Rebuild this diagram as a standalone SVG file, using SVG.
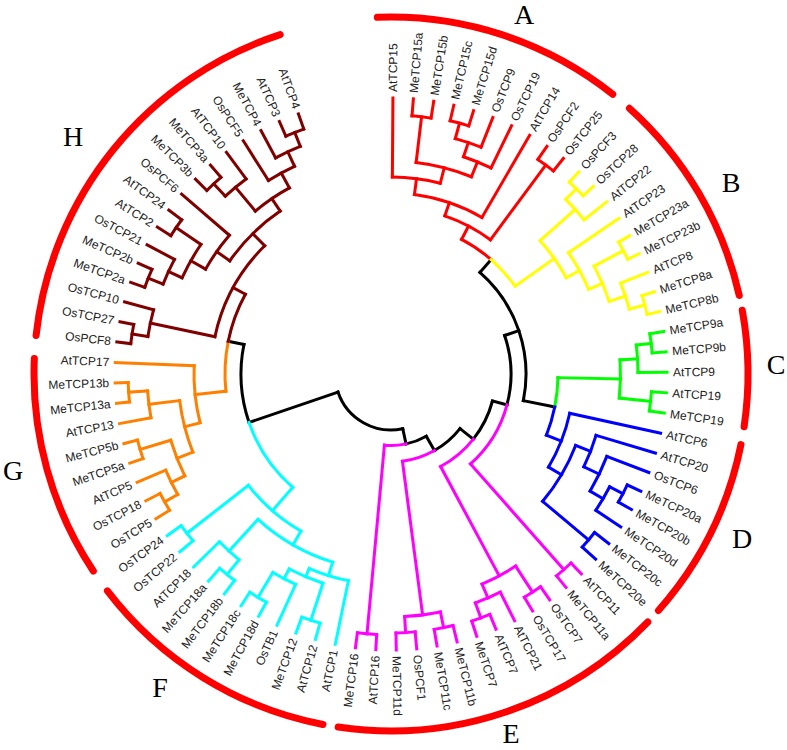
<svg xmlns="http://www.w3.org/2000/svg" width="787" height="750" viewBox="0 0 787 750">
<style>
#connectors line,#connectors circle{fill:none;stroke-width:3;stroke-linecap:square}
.k{stroke:#000}.a{stroke:#f00}.y{stroke:#ff0}.g{stroke:#0f0}.u{stroke:#00f}.m{stroke:#f0f}.c{stroke:#0ff}.o{stroke:#ff8000}.h{stroke:#800000}
#clade-arcs circle{fill:none;stroke:#f00;stroke-width:7;stroke-linecap:round}
.t{font-family:"Liberation Sans",Arial,sans-serif;font-size:12px;fill:#222}
.r{text-anchor:end}
.cl{font-family:"Liberation Serif","Times New Roman",serif;font-size:28px;fill:#000;text-anchor:middle}
</style>
<rect width="787" height="750" fill="#fff"/>
<g id="clade-arcs" transform="translate(391 374)">
<circle r="357" pathLength="360" stroke-dasharray="40.6 360" transform="rotate(-92.2)"/>
<circle r="357" pathLength="360" stroke-dasharray="35.4 360" transform="rotate(-48.1)"/>
<circle r="357" pathLength="360" stroke-dasharray="18.8 360" transform="rotate(-10.3)"/>
<circle r="357" pathLength="360" stroke-dasharray="30.1 360" transform="rotate(11.4)"/>
<circle r="357" pathLength="360" stroke-dasharray="54.5 360" transform="rotate(44)"/>
<circle r="357" pathLength="360" stroke-dasharray="41.6 360" transform="rotate(101)"/>
<circle r="357" pathLength="360" stroke-dasharray="36 360" transform="rotate(146.5)"/>
<circle r="357" pathLength="360" stroke-dasharray="65.7 360" transform="rotate(186.2)"/>
</g>
<g id="clade-letters">
<text class="cl" x="524" y="24">A</text>
<text class="cl" x="731" y="192">B</text>
<text class="cl" x="776" y="374">C</text>
<text class="cl" x="742" y="548">D</text>
<text class="cl" x="511" y="743" font-size="27">E</text>
<text class="cl" x="160" y="697">F</text>
<text class="cl" x="13" y="480">G</text>
<text class="cl" x="73" y="146">H</text>
</g>
<g id="connectors" transform="translate(391 374)">
<g class="k">
<line y1="-135" y2="-152" transform="rotate(41.19)"/>
<line y1="-135" y2="-167" transform="rotate(101.371)"/>
<line y1="-120" y2="-135" transform="rotate(71.28)"/>
<line y1="-105" y2="-120" transform="rotate(104.9025)"/>
<line y1="-88" y2="-105" transform="rotate(128.354)"/>
<line y1="-71.5" y2="-88" transform="rotate(150.4395)"/>
<line y1="-56" y2="-71.5" transform="rotate(167.857)"/>
<line y1="-56" y2="-150" transform="rotate(251.15)"/>
<line y1="-150" y2="-166" transform="rotate(281.365)"/>
<circle r="135" pathLength="360" stroke-dasharray="60.181 360" transform="rotate(-48.81)"/>
<circle r="120" pathLength="360" stroke-dasharray="33.6225 360" transform="rotate(-18.72)"/>
<circle r="105" pathLength="360" stroke-dasharray="23.4515 360" transform="rotate(14.9025)"/>
<circle r="88" pathLength="360" stroke-dasharray="22.086 360" transform="rotate(38.354)"/>
<circle r="71.5" pathLength="360" stroke-dasharray="17.417 360" transform="rotate(60.44)"/>
<circle r="56" pathLength="360" stroke-dasharray="83.293 360" transform="rotate(77.857)"/>
<circle r="150" pathLength="360" stroke-dasharray="30.215 360" transform="rotate(161.15)"/>
</g>
<g class="a">
<line y1="-197" y2="-276" transform="rotate(0.4)"/>
<line y1="-259" y2="-276" transform="rotate(4.65)"/>
<line y1="-259" y2="-276" transform="rotate(8.9)"/>
<line y1="-260" y2="-276" transform="rotate(13.15)"/>
<line y1="-260" y2="-276" transform="rotate(17.4)"/>
<line y1="-244" y2="-276" transform="rotate(21.65)"/>
<line y1="-229" y2="-276" transform="rotate(25.9)"/>
<line y1="-181" y2="-276" transform="rotate(30.15)"/>
<line y1="-260" y2="-276" transform="rotate(34.4)"/>
<line y1="-260" y2="-276" transform="rotate(38.65)"/>
<line y1="-213" y2="-259" transform="rotate(6.775)"/>
<line y1="-244" y2="-260" transform="rotate(15.275)"/>
<line y1="-229" y2="-244" transform="rotate(18.4625)"/>
<line y1="-213" y2="-229" transform="rotate(22.18)"/>
<line y1="-197" y2="-213" transform="rotate(14.4775)"/>
<line y1="-181" y2="-197" transform="rotate(7.439)"/>
<line y1="-167" y2="-181" transform="rotate(18.794)"/>
<line y1="-167" y2="-260" transform="rotate(36.525)"/>
<line y1="-152" y2="-167" transform="rotate(27.66)"/>
<circle r="259" pathLength="360" stroke-dasharray="4.25 360" transform="rotate(-85.35)"/>
<circle r="260" pathLength="360" stroke-dasharray="4.25 360" transform="rotate(-76.85)"/>
<circle r="244" pathLength="360" stroke-dasharray="6.375 360" transform="rotate(-74.725)"/>
<circle r="229" pathLength="360" stroke-dasharray="7.4375 360" transform="rotate(-71.5375)"/>
<circle r="213" pathLength="360" stroke-dasharray="15.4025 360" transform="rotate(-83.225)"/>
<circle r="197" pathLength="360" stroke-dasharray="14.0775 360" transform="rotate(-89.6)"/>
<circle r="181" pathLength="360" stroke-dasharray="22.711 360" transform="rotate(-82.561)"/>
<circle r="260" pathLength="360" stroke-dasharray="4.25 360" transform="rotate(-55.6)"/>
<circle r="167" pathLength="360" stroke-dasharray="17.731 360" transform="rotate(-71.206)"/>
<circle r="152" pathLength="360" stroke-dasharray="13.53 360" transform="rotate(-62.34)"/>
</g>
<g class="y">
<line y1="-262" y2="-276" transform="rotate(42.9)"/>
<line y1="-262" y2="-276" transform="rotate(47.15)"/>
<line y1="-247" y2="-276" transform="rotate(51.4)"/>
<line y1="-215" y2="-276" transform="rotate(55.65)"/>
<line y1="-263" y2="-276" transform="rotate(59.9)"/>
<line y1="-263" y2="-276" transform="rotate(64.15)"/>
<line y1="-247" y2="-276" transform="rotate(68.4)"/>
<line y1="-263" y2="-276" transform="rotate(72.65)"/>
<line y1="-263" y2="-276" transform="rotate(76.9)"/>
<line y1="-247" y2="-262" transform="rotate(45.025)"/>
<line y1="-200" y2="-247" transform="rotate(48.2125)"/>
<line y1="-230" y2="-263" transform="rotate(62.025)"/>
<line y1="-247" y2="-263" transform="rotate(74.775)"/>
<line y1="-230" y2="-247" transform="rotate(71.5875)"/>
<line y1="-215" y2="-230" transform="rotate(66.806)"/>
<line y1="-200" y2="-215" transform="rotate(61.228)"/>
<line y1="-152" y2="-200" transform="rotate(54.72)"/>
<circle r="262" pathLength="360" stroke-dasharray="4.25 360" transform="rotate(-47.1)"/>
<circle r="247" pathLength="360" stroke-dasharray="6.375 360" transform="rotate(-44.975)"/>
<circle r="263" pathLength="360" stroke-dasharray="4.25 360" transform="rotate(-30.1)"/>
<circle r="263" pathLength="360" stroke-dasharray="4.25 360" transform="rotate(-17.35)"/>
<circle r="247" pathLength="360" stroke-dasharray="6.375 360" transform="rotate(-21.6)"/>
<circle r="230" pathLength="360" stroke-dasharray="9.5625 360" transform="rotate(-27.975)"/>
<circle r="215" pathLength="360" stroke-dasharray="11.156 360" transform="rotate(-34.35)"/>
<circle r="200" pathLength="360" stroke-dasharray="13.0155 360" transform="rotate(-41.7875)"/>
<circle r="152" pathLength="360" stroke-dasharray="13.53 360" transform="rotate(-48.81)"/>
</g>
<g class="g">
<line y1="-262" y2="-276" transform="rotate(81.15)"/>
<line y1="-262" y2="-276" transform="rotate(85.4)"/>
<line y1="-247" y2="-276" transform="rotate(89.65)"/>
<line y1="-261" y2="-276" transform="rotate(93.9)"/>
<line y1="-261" y2="-276" transform="rotate(98.15)"/>
<line y1="-247" y2="-262" transform="rotate(83.275)"/>
<line y1="-229.5" y2="-247" transform="rotate(86.4625)"/>
<line y1="-229.5" y2="-261" transform="rotate(96.025)"/>
<line y1="-167" y2="-229.5" transform="rotate(91.244)"/>
<circle r="262" pathLength="360" stroke-dasharray="4.25 360" transform="rotate(-8.85)"/>
<circle r="247" pathLength="360" stroke-dasharray="6.375 360" transform="rotate(-6.725)"/>
<circle r="261" pathLength="360" stroke-dasharray="4.25 360" transform="rotate(3.9)"/>
<circle r="229.5" pathLength="360" stroke-dasharray="9.5625 360" transform="rotate(-3.5375)"/>
<circle r="167" pathLength="360" stroke-dasharray="10.127 360" transform="rotate(1.244)"/>
</g>
<g class="u">
<line y1="-183" y2="-276" transform="rotate(102.4)"/>
<line y1="-214" y2="-276" transform="rotate(106.65)"/>
<line y1="-231" y2="-276" transform="rotate(110.9)"/>
<line y1="-261" y2="-276" transform="rotate(115.15)"/>
<line y1="-261" y2="-276" transform="rotate(119.4)"/>
<line y1="-246" y2="-276" transform="rotate(123.65)"/>
<line y1="-258" y2="-276" transform="rotate(127.9)"/>
<line y1="-258" y2="-276" transform="rotate(132.15)"/>
<line y1="-246" y2="-261" transform="rotate(117.275)"/>
<line y1="-231" y2="-246" transform="rotate(120.4625)"/>
<line y1="-214" y2="-231" transform="rotate(115.681)"/>
<line y1="-198" y2="-214" transform="rotate(111.166)"/>
<line y1="-198" y2="-258" transform="rotate(130.025)"/>
<line y1="-183" y2="-198" transform="rotate(120.5955)"/>
<line y1="-167" y2="-183" transform="rotate(111.498)"/>
<circle r="261" pathLength="360" stroke-dasharray="4.25 360" transform="rotate(25.15)"/>
<circle r="246" pathLength="360" stroke-dasharray="6.375 360" transform="rotate(27.275)"/>
<circle r="231" pathLength="360" stroke-dasharray="9.5625 360" transform="rotate(20.9)"/>
<circle r="214" pathLength="360" stroke-dasharray="9.031 360" transform="rotate(16.65)"/>
<circle r="258" pathLength="360" stroke-dasharray="4.25 360" transform="rotate(37.9)"/>
<circle r="198" pathLength="360" stroke-dasharray="18.859 360" transform="rotate(21.166)"/>
<circle r="183" pathLength="360" stroke-dasharray="18.1955 360" transform="rotate(12.4)"/>
<circle r="167" pathLength="360" stroke-dasharray="10.127 360" transform="rotate(11.371)"/>
</g>
<g class="m">
<line y1="-261" y2="-276" transform="rotate(136.4)"/>
<line y1="-261" y2="-276" transform="rotate(140.65)"/>
<line y1="-260" y2="-276" transform="rotate(144.9)"/>
<line y1="-260" y2="-276" transform="rotate(149.15)"/>
<line y1="-244" y2="-276" transform="rotate(153.4)"/>
<line y1="-260" y2="-276" transform="rotate(157.65)"/>
<line y1="-260" y2="-276" transform="rotate(161.9)"/>
<line y1="-259" y2="-276" transform="rotate(166.15)"/>
<line y1="-259" y2="-276" transform="rotate(170.4)"/>
<line y1="-259" y2="-276" transform="rotate(174.65)"/>
<line y1="-259" y2="-276" transform="rotate(178.9)"/>
<line y1="-261" y2="-276" transform="rotate(183.15)"/>
<line y1="-261" y2="-276" transform="rotate(187.4)"/>
<line y1="-120" y2="-261" transform="rotate(138.525)"/>
<line y1="-229" y2="-260" transform="rotate(147.025)"/>
<line y1="-244" y2="-260" transform="rotate(159.775)"/>
<line y1="-229" y2="-244" transform="rotate(156.5875)"/>
<line y1="-105" y2="-229" transform="rotate(151.806)"/>
<line y1="-243" y2="-259" transform="rotate(168.275)"/>
<line y1="-243" y2="-259" transform="rotate(176.775)"/>
<line y1="-88" y2="-243" transform="rotate(172.525)"/>
<line y1="-71.5" y2="-261" transform="rotate(185.275)"/>
<circle r="261" pathLength="360" stroke-dasharray="4.25 360" transform="rotate(46.4)"/>
<circle r="260" pathLength="360" stroke-dasharray="4.25 360" transform="rotate(54.9)"/>
<circle r="260" pathLength="360" stroke-dasharray="4.25 360" transform="rotate(67.65)"/>
<circle r="244" pathLength="360" stroke-dasharray="6.375 360" transform="rotate(63.4)"/>
<circle r="229" pathLength="360" stroke-dasharray="9.5625 360" transform="rotate(57.025)"/>
<circle r="259" pathLength="360" stroke-dasharray="4.25 360" transform="rotate(76.15)"/>
<circle r="259" pathLength="360" stroke-dasharray="4.25 360" transform="rotate(84.65)"/>
<circle r="243" pathLength="360" stroke-dasharray="8.5 360" transform="rotate(78.275)"/>
<circle r="261" pathLength="360" stroke-dasharray="4.25 360" transform="rotate(93.15)"/>
<circle r="120" pathLength="360" stroke-dasharray="33.6225 360" transform="rotate(14.9025)"/>
<circle r="105" pathLength="360" stroke-dasharray="23.452 360" transform="rotate(38.354)"/>
<circle r="88" pathLength="360" stroke-dasharray="22.0855 360" transform="rotate(60.4395)"/>
<circle r="71.5" pathLength="360" stroke-dasharray="17.418 360" transform="rotate(77.857)"/>
</g>
<g class="c">
<line y1="-211" y2="-276" transform="rotate(191.65)"/>
<line y1="-259" y2="-276" transform="rotate(195.9)"/>
<line y1="-259" y2="-276" transform="rotate(200.15)"/>
<line y1="-231" y2="-276" transform="rotate(204.4)"/>
<line y1="-260" y2="-276" transform="rotate(208.65)"/>
<line y1="-260" y2="-276" transform="rotate(212.9)"/>
<line y1="-259" y2="-276" transform="rotate(217.15)"/>
<line y1="-259" y2="-276" transform="rotate(221.4)"/>
<line y1="-240" y2="-276" transform="rotate(225.65)"/>
<line y1="-259" y2="-276" transform="rotate(229.9)"/>
<line y1="-259" y2="-276" transform="rotate(234.15)"/>
<line y1="-220" y2="-259" transform="rotate(198.025)"/>
<line y1="-231" y2="-260" transform="rotate(210.775)"/>
<line y1="-220" y2="-231" transform="rotate(207.5875)"/>
<line y1="-211" y2="-220" transform="rotate(202.806)"/>
<line y1="-197" y2="-211" transform="rotate(197.228)"/>
<line y1="-240" y2="-259" transform="rotate(219.275)"/>
<line y1="-197" y2="-240" transform="rotate(222.4625)"/>
<line y1="-181" y2="-197" transform="rotate(209.845)"/>
<line y1="-181" y2="-259" transform="rotate(232.025)"/>
<line y1="-150" y2="-181" transform="rotate(220.935)"/>
<circle r="259" pathLength="360" stroke-dasharray="4.25 360" transform="rotate(105.9)"/>
<circle r="260" pathLength="360" stroke-dasharray="4.25 360" transform="rotate(118.65)"/>
<circle r="231" pathLength="360" stroke-dasharray="6.375 360" transform="rotate(114.4)"/>
<circle r="220" pathLength="360" stroke-dasharray="9.5625 360" transform="rotate(108.025)"/>
<circle r="211" pathLength="360" stroke-dasharray="11.156 360" transform="rotate(101.65)"/>
<circle r="259" pathLength="360" stroke-dasharray="4.25 360" transform="rotate(127.15)"/>
<circle r="240" pathLength="360" stroke-dasharray="6.375 360" transform="rotate(129.275)"/>
<circle r="197" pathLength="360" stroke-dasharray="25.2345 360" transform="rotate(107.228)"/>
<circle r="259" pathLength="360" stroke-dasharray="4.25 360" transform="rotate(139.9)"/>
<circle r="181" pathLength="360" stroke-dasharray="22.18 360" transform="rotate(119.845)"/>
<circle r="150" pathLength="360" stroke-dasharray="30.215 360" transform="rotate(130.935)"/>
</g>
<g class="o">
<line y1="-260" y2="-276" transform="rotate(238.4)"/>
<line y1="-260" y2="-276" transform="rotate(242.65)"/>
<line y1="-245" y2="-276" transform="rotate(246.9)"/>
<line y1="-262" y2="-276" transform="rotate(251.15)"/>
<line y1="-262" y2="-276" transform="rotate(255.4)"/>
<line y1="-244" y2="-276" transform="rotate(259.65)"/>
<line y1="-263" y2="-276" transform="rotate(263.9)"/>
<line y1="-263" y2="-276" transform="rotate(268.15)"/>
<line y1="-197" y2="-276" transform="rotate(272.4)"/>
<line y1="-245" y2="-260" transform="rotate(240.525)"/>
<line y1="-230" y2="-245" transform="rotate(243.7125)"/>
<line y1="-230" y2="-262" transform="rotate(253.275)"/>
<line y1="-213" y2="-230" transform="rotate(248.494)"/>
<line y1="-244" y2="-263" transform="rotate(266.025)"/>
<line y1="-213" y2="-244" transform="rotate(262.8375)"/>
<line y1="-197" y2="-213" transform="rotate(255.666)"/>
<line y1="-166" y2="-197" transform="rotate(264.033)"/>
<circle r="260" pathLength="360" stroke-dasharray="4.25 360" transform="rotate(148.4)"/>
<circle r="245" pathLength="360" stroke-dasharray="6.375 360" transform="rotate(150.525)"/>
<circle r="262" pathLength="360" stroke-dasharray="4.25 360" transform="rotate(161.15)"/>
<circle r="230" pathLength="360" stroke-dasharray="9.5625 360" transform="rotate(153.7125)"/>
<circle r="263" pathLength="360" stroke-dasharray="4.25 360" transform="rotate(173.9)"/>
<circle r="244" pathLength="360" stroke-dasharray="6.375 360" transform="rotate(169.65)"/>
<circle r="213" pathLength="360" stroke-dasharray="14.3435 360" transform="rotate(158.494)"/>
<circle r="197" pathLength="360" stroke-dasharray="16.734 360" transform="rotate(165.666)"/>
<circle r="166" pathLength="360" stroke-dasharray="17.332 360" transform="rotate(174.033)"/>
</g>
<g class="h">
<line y1="-262" y2="-276" transform="rotate(276.65)"/>
<line y1="-262" y2="-276" transform="rotate(280.9)"/>
<line y1="-246" y2="-276" transform="rotate(285.15)"/>
<line y1="-261" y2="-276" transform="rotate(289.4)"/>
<line y1="-261" y2="-276" transform="rotate(293.65)"/>
<line y1="-245" y2="-276" transform="rotate(297.9)"/>
<line y1="-260" y2="-276" transform="rotate(302.15)"/>
<line y1="-260" y2="-276" transform="rotate(306.4)"/>
<line y1="-213" y2="-276" transform="rotate(310.65)"/>
<line y1="-260" y2="-276" transform="rotate(314.9)"/>
<line y1="-260" y2="-276" transform="rotate(319.15)"/>
<line y1="-243" y2="-276" transform="rotate(323.4)"/>
<line y1="-229" y2="-276" transform="rotate(327.65)"/>
<line y1="-245" y2="-276" transform="rotate(331.9)"/>
<line y1="-260" y2="-276" transform="rotate(336.15)"/>
<line y1="-260" y2="-276" transform="rotate(340.4)"/>
<line y1="-246" y2="-262" transform="rotate(278.775)"/>
<line y1="-180" y2="-246" transform="rotate(281.9625)"/>
<line y1="-245" y2="-261" transform="rotate(291.525)"/>
<line y1="-230" y2="-245" transform="rotate(294.7125)"/>
<line y1="-230" y2="-260" transform="rotate(304.275)"/>
<line y1="-213" y2="-230" transform="rotate(299.494)"/>
<line y1="-197" y2="-213" transform="rotate(305.072)"/>
<line y1="-243" y2="-260" transform="rotate(317.025)"/>
<line y1="-212" y2="-243" transform="rotate(320.2125)"/>
<line y1="-245" y2="-260" transform="rotate(338.275)"/>
<line y1="-229" y2="-245" transform="rotate(335.0875)"/>
<line y1="-212" y2="-229" transform="rotate(331.369)"/>
<line y1="-197" y2="-212" transform="rotate(325.79)"/>
<line y1="-180" y2="-197" transform="rotate(315.431)"/>
<line y1="-166" y2="-180" transform="rotate(298.697)"/>
<circle r="262" pathLength="360" stroke-dasharray="4.25 360" transform="rotate(186.65)"/>
<circle r="246" pathLength="360" stroke-dasharray="6.375 360" transform="rotate(188.775)"/>
<circle r="261" pathLength="360" stroke-dasharray="4.25 360" transform="rotate(199.4)"/>
<circle r="245" pathLength="360" stroke-dasharray="6.375 360" transform="rotate(201.525)"/>
<circle r="260" pathLength="360" stroke-dasharray="4.25 360" transform="rotate(212.15)"/>
<circle r="230" pathLength="360" stroke-dasharray="9.5625 360" transform="rotate(204.7125)"/>
<circle r="213" pathLength="360" stroke-dasharray="11.156 360" transform="rotate(209.494)"/>
<circle r="260" pathLength="360" stroke-dasharray="4.25 360" transform="rotate(224.9)"/>
<circle r="243" pathLength="360" stroke-dasharray="6.375 360" transform="rotate(227.025)"/>
<circle r="260" pathLength="360" stroke-dasharray="4.25 360" transform="rotate(246.15)"/>
<circle r="245" pathLength="360" stroke-dasharray="6.375 360" transform="rotate(241.9)"/>
<circle r="229" pathLength="360" stroke-dasharray="7.4375 360" transform="rotate(237.65)"/>
<circle r="212" pathLength="360" stroke-dasharray="11.1565 360" transform="rotate(230.2125)"/>
<circle r="197" pathLength="360" stroke-dasharray="20.718 360" transform="rotate(215.072)"/>
<circle r="180" pathLength="360" stroke-dasharray="33.4685 360" transform="rotate(191.9625)"/>
<circle r="166" pathLength="360" stroke-dasharray="17.332 360" transform="rotate(191.365)"/>
</g>
</g>
<g id="labels" class="t" transform="translate(391 374)">
<g id="AtTCP15" transform="rotate(-89.6)"><text x="282" dy="4">AtTCP15</text></g>
<g id="MeTCP15a" transform="rotate(-85.35)"><text x="282" dy="4">MeTCP15a</text></g>
<g id="MeTCP15b" transform="rotate(-81.1)"><text x="282" dy="4">MeTCP15b</text></g>
<g id="MeTCP15c" transform="rotate(-76.85)"><text x="282" dy="4">MeTCP15c</text></g>
<g id="MeTCP15d" transform="rotate(-72.6)"><text x="282" dy="4">MeTCP15d</text></g>
<g id="OsTCP9" transform="rotate(-68.35)"><text x="282" dy="4">OsTCP9</text></g>
<g id="OsTCP19" transform="rotate(-64.1)"><text x="282" dy="4">OsTCP19</text></g>
<g id="AtTCP14" transform="rotate(-59.85)"><text x="282" dy="4">AtTCP14</text></g>
<g id="OsPCF2" transform="rotate(-55.6)"><text x="282" dy="4">OsPCF2</text></g>
<g id="OsTCP25" transform="rotate(-51.35)"><text x="282" dy="4">OsTCP25</text></g>
<g id="OsPCF3" transform="rotate(-47.1)"><text x="282" dy="4">OsPCF3</text></g>
<g id="OsTCP28" transform="rotate(-42.85)"><text x="282" dy="4">OsTCP28</text></g>
<g id="AtTCP22" transform="rotate(-38.6)"><text x="282" dy="4">AtTCP22</text></g>
<g id="AtTCP23" transform="rotate(-34.35)"><text x="282" dy="4">AtTCP23</text></g>
<g id="MeTCP23a" transform="rotate(-30.1)"><text x="282" dy="4">MeTCP23a</text></g>
<g id="MeTCP23b" transform="rotate(-25.85)"><text x="282" dy="4">MeTCP23b</text></g>
<g id="AtTCP8" transform="rotate(-21.6)"><text x="282" dy="4">AtTCP8</text></g>
<g id="MeTCP8a" transform="rotate(-17.35)"><text x="282" dy="4">MeTCP8a</text></g>
<g id="MeTCP8b" transform="rotate(-13.1)"><text x="282" dy="4">MeTCP8b</text></g>
<g id="MeTCP9a" transform="rotate(-8.85)"><text x="282" dy="4">MeTCP9a</text></g>
<g id="MeTCP9b" transform="rotate(-4.6)"><text x="282" dy="4">MeTCP9b</text></g>
<g id="AtTCP9" transform="rotate(-0.35)"><text x="282" dy="4">AtTCP9</text></g>
<g id="AtTCP19" transform="rotate(3.9)"><text x="282" dy="4">AtTCP19</text></g>
<g id="MeTCP19" transform="rotate(8.15)"><text x="282" dy="4">MeTCP19</text></g>
<g id="AtTCP6" transform="rotate(12.4)"><text x="282" dy="4">AtTCP6</text></g>
<g id="AtTCP20" transform="rotate(16.65)"><text x="282" dy="4">AtTCP20</text></g>
<g id="OsTCP6" transform="rotate(20.9)"><text x="282" dy="4">OsTCP6</text></g>
<g id="MeTCP20a" transform="rotate(25.15)"><text x="282" dy="4">MeTCP20a</text></g>
<g id="MeTCP20b" transform="rotate(29.4)"><text x="282" dy="4">MeTCP20b</text></g>
<g id="MeTCP20d" transform="rotate(33.65)"><text x="282" dy="4">MeTCP20d</text></g>
<g id="MeTCP20c" transform="rotate(37.9)"><text x="282" dy="4">MeTCP20c</text></g>
<g id="MeTCP20e" transform="rotate(42.15)"><text x="282" dy="4">MeTCP20e</text></g>
<g id="AtTCP11" transform="rotate(46.4)"><text x="282" dy="4">AtTCP11</text></g>
<g id="MeTCP11a" transform="rotate(50.65)"><text x="282" dy="4">MeTCP11a</text></g>
<g id="OsTCP7" transform="rotate(54.9)"><text x="282" dy="4">OsTCP7</text></g>
<g id="OsTCP17" transform="rotate(59.15)"><text x="282" dy="4">OsTCP17</text></g>
<g id="AtTCP21" transform="rotate(63.4)"><text x="282" dy="4">AtTCP21</text></g>
<g id="AtTCP7" transform="rotate(67.65)"><text x="282" dy="4">AtTCP7</text></g>
<g id="MeTCP7" transform="rotate(71.9)"><text x="282" dy="4">MeTCP7</text></g>
<g id="MeTCP11b" transform="rotate(76.15)"><text x="282" dy="4">MeTCP11b</text></g>
<g id="MeTCP11c" transform="rotate(80.4)"><text x="282" dy="4">MeTCP11c</text></g>
<g id="OsPCF1" transform="rotate(84.65)"><text x="282" dy="4">OsPCF1</text></g>
<g id="MeTCP11d" transform="rotate(88.9)"><text x="282" dy="4">MeTCP11d</text></g>
<g id="AtTCP16" transform="rotate(-86.85)"><text class="r" x="-282" dy="4">AtTCP16</text></g>
<g id="MeTCP16" transform="rotate(-82.6)"><text class="r" x="-282" dy="4">MeTCP16</text></g>
<g id="AtTCP1" transform="rotate(-78.35)"><text class="r" x="-282" dy="4">AtTCP1</text></g>
<g id="AtTCP12" transform="rotate(-74.1)"><text class="r" x="-282" dy="4">AtTCP12</text></g>
<g id="MeTCP12" transform="rotate(-69.85)"><text class="r" x="-282" dy="4">MeTCP12</text></g>
<g id="OsTB1" transform="rotate(-65.6)"><text class="r" x="-282" dy="4">OsTB1</text></g>
<g id="MeTCP18d" transform="rotate(-61.35)"><text class="r" x="-282" dy="4">MeTCP18d</text></g>
<g id="MeTCP18c" transform="rotate(-57.1)"><text class="r" x="-282" dy="4">MeTCP18c</text></g>
<g id="MeTCP18b" transform="rotate(-52.85)"><text class="r" x="-282" dy="4">MeTCP18b</text></g>
<g id="MeTCP18a" transform="rotate(-48.6)"><text class="r" x="-282" dy="4">MeTCP18a</text></g>
<g id="AtTCP18" transform="rotate(-44.35)"><text class="r" x="-282" dy="4">AtTCP18</text></g>
<g id="OsTCP22" transform="rotate(-40.1)"><text class="r" x="-282" dy="4">OsTCP22</text></g>
<g id="OsTCP24" transform="rotate(-35.85)"><text class="r" x="-282" dy="4">OsTCP24</text></g>
<g id="OsTCP5" transform="rotate(-31.6)"><text class="r" x="-282" dy="4">OsTCP5</text></g>
<g id="OsTCP18" transform="rotate(-27.35)"><text class="r" x="-282" dy="4">OsTCP18</text></g>
<g id="AtTCP5" transform="rotate(-23.1)"><text class="r" x="-282" dy="4">AtTCP5</text></g>
<g id="MeTCP5a" transform="rotate(-18.85)"><text class="r" x="-282" dy="4">MeTCP5a</text></g>
<g id="MeTCP5b" transform="rotate(-14.6)"><text class="r" x="-282" dy="4">MeTCP5b</text></g>
<g id="AtTCP13" transform="rotate(-10.35)"><text class="r" x="-282" dy="4">AtTCP13</text></g>
<g id="MeTCP13a" transform="rotate(-6.1)"><text class="r" x="-282" dy="4">MeTCP13a</text></g>
<g id="MeTCP13b" transform="rotate(-1.85)"><text class="r" x="-282" dy="4">MeTCP13b</text></g>
<g id="AtTCP17" transform="rotate(2.4)"><text class="r" x="-282" dy="4">AtTCP17</text></g>
<g id="OsPCF8" transform="rotate(6.65)"><text class="r" x="-282" dy="4">OsPCF8</text></g>
<g id="OsTCP27" transform="rotate(10.9)"><text class="r" x="-282" dy="4">OsTCP27</text></g>
<g id="OsTCP10" transform="rotate(15.15)"><text class="r" x="-282" dy="4">OsTCP10</text></g>
<g id="MeTCP2a" transform="rotate(19.4)"><text class="r" x="-282" dy="4">MeTCP2a</text></g>
<g id="MeTCP2b" transform="rotate(23.65)"><text class="r" x="-282" dy="4">MeTCP2b</text></g>
<g id="OsTCP21" transform="rotate(27.9)"><text class="r" x="-282" dy="4">OsTCP21</text></g>
<g id="AtTCP2" transform="rotate(32.15)"><text class="r" x="-282" dy="4">AtTCP2</text></g>
<g id="AtTCP24" transform="rotate(36.4)"><text class="r" x="-282" dy="4">AtTCP24</text></g>
<g id="OsPCF6" transform="rotate(40.65)"><text class="r" x="-282" dy="4">OsPCF6</text></g>
<g id="MeTCP3b" transform="rotate(44.9)"><text class="r" x="-282" dy="4">MeTCP3b</text></g>
<g id="MeTCP3a" transform="rotate(49.15)"><text class="r" x="-282" dy="4">MeTCP3a</text></g>
<g id="AtTCP10" transform="rotate(53.4)"><text class="r" x="-282" dy="4">AtTCP10</text></g>
<g id="OsPCF5" transform="rotate(57.65)"><text class="r" x="-282" dy="4">OsPCF5</text></g>
<g id="MeTCP4" transform="rotate(61.9)"><text class="r" x="-282" dy="4">MeTCP4</text></g>
<g id="AtTCP3" transform="rotate(66.15)"><text class="r" x="-282" dy="4">AtTCP3</text></g>
<g id="AtTCP4" transform="rotate(70.4)"><text class="r" x="-282" dy="4">AtTCP4</text></g>
</g>
</svg>
